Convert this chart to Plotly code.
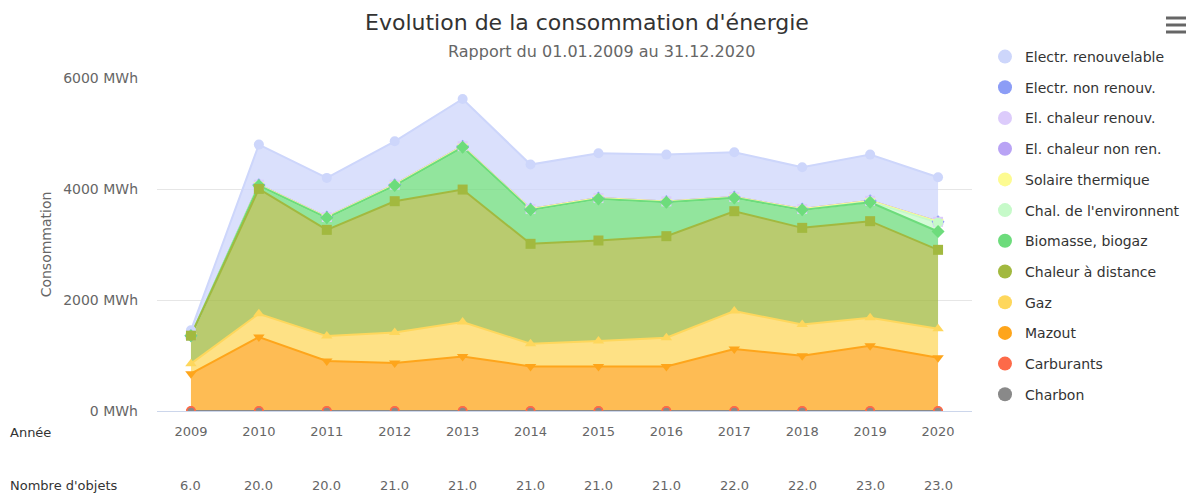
import plotly.graph_objects as go

years = [2009, 2010, 2011, 2012, 2013, 2014, 2015, 2016, 2017, 2018, 2019, 2020]
nb_objets = [6, 20, 20, 21, 21, 21, 21, 21, 22, 22, 23, 23]

electr_renouv = [96, 723, 705, 783, 850, 801, 807, 843, 807, 753, 833, 803]
electr_non_renouv = [0] * 12
el_chaleur_renouv = [0] * 12
el_chaleur_non_ren = [0] * 12
solaire = [0, 15, 15, 15, 20, 15, 15, 15, 15, 15, 15, 15]
chal_env = [0, 0, 0, 0, 0, 0, 0, 0, 0, 0, 10, 160]
biomasse = [0, 60, 216, 282, 762, 612, 750, 612, 240, 324, 342, 330]
chaleur_distance = [504, 2250, 1914, 2364, 2388, 1800, 1812, 1830, 1800, 1740, 1740, 1422]
gaz = [180, 420, 450, 552, 618, 408, 456, 516, 684, 564, 504, 522]
mazout = [673, 1332, 900, 864, 984, 804, 804, 804, 1116, 996, 1176, 960]
carburants = [0] * 12
charbon = [0] * 12

y_ticks = [0, 2000, 4000, 6000]
y_tick_labels = ["0 MWh", "2000 MWh", "4000 MWh", "6000 MWh"]

# legend order (top of stack first)
series = [
    ("Electr. renouvelable", electr_renouv, "#cdd6fb", "circle"),
    ("Electr. non renouv.", electr_non_renouv, "#8c9df6", "diamond"),
    ("El. chaleur renouv.", el_chaleur_renouv, "#dccbfb", "square"),
    ("El. chaleur non ren.", el_chaleur_non_ren, "#b9a3f5", "triangle-up"),
    ("Solaire thermique", solaire, "#fdfb91", "triangle-down"),
    ("Chal. de l'environnent", chal_env, "#c6fac9", "circle"),
    ("Biomasse, biogaz", biomasse, "#6ddc7c", "diamond"),
    ("Chaleur à distance", chaleur_distance, "#a2b93f", "square"),
    ("Gaz", gaz, "#fed75c", "triangle-up"),
    ("Mazout", mazout, "#fea51b", "triangle-down"),
    ("Carburants", carburants, "#fd6a49", "circle"),
    ("Charbon", charbon, "#898989", "circle"),
]


def rgba(hexc, a):
    h = hexc.lstrip("#")
    r, g, b = int(h[0:2], 16), int(h[2:4], 16), int(h[4:6], 16)
    return f"rgba({r},{g},{b},{a})"


# pixel -> paper helpers (plot area: x 157..972, y 78..411)
def px(x):
    return (x - 157) / 815


def py(y):
    return (411 - y) / 333


FONT = "DejaVu Sans"
fig = go.Figure()

# stacked area fills: bottom of stack first
for name, vals, col, sym in reversed(series):
    fig.add_trace(go.Scatter(
        x=years, y=vals, name=name, stackgroup="one", mode="lines",
        line=dict(color=col, width=0),
        fillcolor=rgba(col, 0.75),
        showlegend=False, hoverinfo="skip",
    ))

# cumulative tops
cum = {}
running = [0] * 12
for name, vals, col, sym in reversed(series):
    running = [r + v for r, v in zip(running, vals)]
    cum[name] = running

# lines drawn in legend order (later series on top, as in the reference)
for name, vals, col, sym in series:
    fig.add_trace(go.Scatter(
        x=years, y=cum[name], mode="lines", line=dict(color=col, width=2),
        showlegend=False, hoverinfo="skip",
    ))

# markers drawn in legend order
for name, vals, col, sym in series:
    fig.add_trace(go.Scatter(
        x=years, y=cum[name], mode="markers", name=name, customdata=vals,
        marker=dict(symbol=sym, size=10 if name != "Charbon" else 8, color=col,
                    line=dict(width=1.5, color="#fd6a49") if name == "Charbon" else dict(width=0)),
        showlegend=False, hovertemplate="%{customdata} MWh",
    ))

# legend entries (circles) in reference order
for i, (name, vals, col, sym) in enumerate(series):
    fig.add_trace(go.Scatter(
        x=[None], y=[None], mode="markers", name=name, legendgroup=f"g{i}",
        marker=dict(symbol="circle", size=14, color=col),
    ))

# "Nombre d'objets" row
for yr, n in zip(years, nb_objets):
    fig.add_annotation(x=yr, xref="x", y=py(485), yref="paper", text=f"{n:.1f}",
                       showarrow=False, font=dict(family=FONT, size=13, color="#666666"),
                       yanchor="middle")
fig.add_annotation(x=px(8), xref="paper", y=py(485), yref="paper", text="Nombre d'objets",
                   showarrow=False, xanchor="left", yanchor="middle",
                   font=dict(family=FONT, size=13, color="#333333"))
fig.add_annotation(x=px(8), xref="paper", y=py(432), yref="paper", text="Année",
                   showarrow=False, xanchor="left", yanchor="middle",
                   font=dict(family=FONT, size=13, color="#333333"))

# subtitle
fig.add_annotation(x=px(601), xref="paper", y=py(52), yref="paper", text="Rapport du 01.01.2009 au 31.12.2020",
                   showarrow=False, xanchor="center", yanchor="middle",
                   font=dict(family=FONT, size=16, color="#666666"))

# hamburger menu icon
for yy in (18, 25, 32):
    fig.add_shape(type="line", xref="paper", yref="paper",
                  x0=px(1166), x1=px(1186), y0=py(yy), y1=py(yy),
                  line=dict(color="#666666", width=3))

fig.update_layout(
    width=1198, height=496,
    margin=dict(l=157, r=226, t=78, b=85, autoexpand=False),
    paper_bgcolor="white", plot_bgcolor="white",
    font=dict(family=FONT, size=13, color="#666666"),
    title=dict(text="Evolution de la consommation d'énergie", x=587 / 1198, xref="container", xanchor="center",
               y=1 - 22 / 496, yref="container", yanchor="middle",
               font=dict(family=FONT, size=22, color="#333333")),
    xaxis=dict(range=[2008.5, 2020.5], tickmode="array", tickvals=years, ticktext=[str(y) for y in years],
               showgrid=False, zeroline=False, showline=False, ticks="",
               tickfont=dict(family=FONT, size=13, color="#666666"), ticklabelstandoff=11),
    yaxis=dict(range=[0, 6000], tickmode="array", tickvals=y_ticks, ticktext=y_tick_labels,
               showgrid=True, gridcolor="#e6e6e6", gridwidth=1, zeroline=True, zerolinecolor="#ccd6eb",
               zerolinewidth=1, showline=False, ticks="", ticklabelstandoff=18,
               tickfont=dict(family=FONT, size=14, color="#666666"),
               title=dict(text="Consommation", font=dict(family=FONT, size=14, color="#666666"), standoff=8)),
    legend=dict(x=px(985), xanchor="left", y=1 - 41 / 496, yref="container", yanchor="top",
                tracegroupgap=9.5, maxheight=460,
                font=dict(family=FONT, size=14, color="#333333"), itemsizing="trace",
                bgcolor="rgba(0,0,0,0)"),
    hovermode="closest",
)

fig.write_html("out.html", config={"displayModeBar": False},
               post_script="document.body.style.margin='0px';document.body.style.overflow='hidden';")
